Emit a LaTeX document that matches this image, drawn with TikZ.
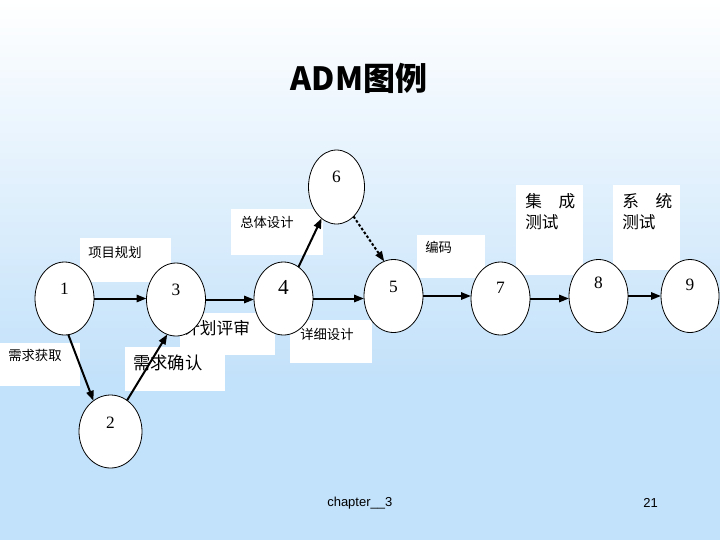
\documentclass[tikz,border=0pt]{standalone}
\usepackage{fontspec}
\setmainfont{Liberation Serif}
\newfontfamily\cjk{Noto Sans CJK SC}
\newfontfamily\arialf{Liberation Sans}
\usetikzlibrary{shapes.geometric,arrows.meta}
\definecolor{bgblue}{RGB}{194,225,250}
\begin{document}
\begin{tikzpicture}[x=0.75pt,y=-0.75pt,
  ell/.style={ellipse, draw=black, line width=0.6pt, fill=white, inner sep=0pt, outer sep=0pt,
              minimum width=44.25pt, minimum height=54.75pt},
  num/.style={font=\fontsize{13}{13}\selectfont, inner sep=0pt},
  lbl/.style={anchor=west, font=\cjk\fontsize{10}{12}\selectfont, inner sep=0pt},
  lblbig/.style={anchor=west, font=\cjk\fontsize{12.5}{15.75}\selectfont, inner sep=0pt, align=left},
  arr/.style={line width=1.5pt, -{Triangle[length=7.5pt,width=5.5pt]}},
  darr/.style={arr, dash pattern=on 2pt off 1.5pt}]
\useasboundingbox (0,0) rectangle (720,540);
\fill[top color=white,bottom color=bgblue] (0,0) rectangle (720,380);
\fill[bgblue] (0,379) rectangle (720,540);

\node (title) at (359,78) {\cjk\bfseries\fontsize{24}{24}\selectfont ADM图例};

% white label boxes
\fill[white] (80,238) rectangle (171,282);
\fill[white] (231,209) rectangle (323,255);
\fill[white] (417,235) rectangle (485,278);
\fill[white] (516,185) rectangle (583,275);
\fill[white] (613,185) rectangle (680,270);
\fill[white] (180,313) rectangle (275,355);
\fill[white] (290,320) rectangle (372,363);
\fill[white] (0,343) rectangle (80,386);
\fill[white] (125,347) rectangle (225,391);

% labels
\node[lbl] (l13) at (88,252) {项目规划};
\node[lbl] (l46) at (240,222) {总体设计};
\node[lbl] (l57) at (425,247) {编码};
\node[lblbig] (l78) at (525,212) {集　成\\测试};
\node[lblbig] (l89) at (622,212) {系　统\\测试};
\node[lblbig] (l34) at (183,328) {计划评审};
\node[lbl] (l45) at (300,334) {详细设计};
\node[lbl] (l12) at (8,355) {需求获取};
\node[lblbig, font=\cjk\fontsize{13}{15}\selectfont] (l23) at (133,363) {需求确认};

% event nodes
\node[ell, label={[num, yshift=7.2pt]center:1}] (n1) at (64.5,298.5) {};
\node[ell, label={[num, yshift=7.5pt]center:3}] (n3) at (176,299.5) {};
\node[ell, label={[num, font=\fontsize{16}{16}\selectfont, yshift=8.5pt]center:4}] (n4) at (283.5,298.5) {};
\node[ell, minimum width=42pt, minimum height=55.5pt, label={[num, yshift=7.5pt]center:6}] (n6) at (336.5,187) {};
\node[ell, label={[num, yshift=7pt]center:5}] (n5) at (393.5,296) {};
\node[ell, label={[num, yshift=7.8pt]center:7}] (n7) at (500.5,298.5) {};
\node[ell, label={[num, yshift=9.8pt]center:8}] (n8) at (598.5,296) {};
\node[ell, minimum width=43.5pt, label={[num, yshift=8.2pt]center:9}] (n9) at (690,296) {};
\node[ell, minimum width=47.25pt, label={[num, yshift=6.5pt]center:2}] (n2) at (110.5,431.5) {};

% activities
\draw[arr] (n1.east) -- (n1.east -| n3.west);
\draw[arr] (n3.east) -- (n3.east -| n4.west);
\draw[arr] (n4.east) -- (n4.east -| n5.west);
\draw[arr] (n4) -- (n6);
\draw[darr] (n6.-60) -- (n5.105);
\draw[arr] (n5.east) -- (n5.east -| n7.west);
\draw[arr] (n7.east) -- (n7.east -| n8.west);
\draw[arr] (n8.east) -- (n8.east -| n9.west);
\draw[arr] (n1.-84) -- (n2.119);
\draw[arr] (n2.62) -- (n3.-104);

% footer
\node[anchor=west, font=\arialf\fontsize{9.75}{10}\selectfont, inner sep=0pt] (ft) at (327,503) {chapter\_\_3};
\node[font=\arialf\fontsize{9.75}{10}\selectfont, inner sep=0pt] (pg) at (650.5,503) {21};
\end{tikzpicture}
\end{document}
